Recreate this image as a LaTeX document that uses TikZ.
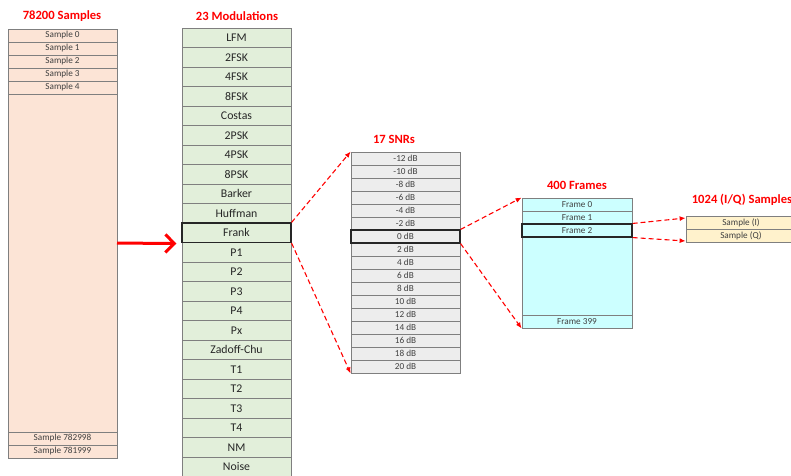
\documentclass[tikz,border=0pt]{standalone}
\usepackage{fontspec}
\setmainfont{Carlito}
\usepackage{tikz}
\usetikzlibrary{arrows.meta}
\definecolor{sampfill}{HTML}{FCE4D6}
\definecolor{modfill}{HTML}{E2EFDA}
\definecolor{snrfill}{HTML}{EDEDED}
\definecolor{framefill}{HTML}{CCFFFF}
\definecolor{iqfill}{HTML}{FFF2CC}
\definecolor{cellline}{HTML}{7F7F7F}
\definecolor{celltext}{HTML}{404040}
\definecolor{titlered}{HTML}{FF0000}
\tikzset{cell/.style = {draw=cellline, line width=0.8pt, minimum width=109pt, inner sep=0pt, text=celltext}}
\tikzset{smallcell/.style = {cell, minimum height=13pt, font=\fontsize{9.2}{10}\selectfont}}
\tikzset{sampcell/.style = {smallcell, fill=sampfill}}
\tikzset{modcell/.style = {cell, fill=modfill, minimum height=19.5pt, text=black!85, font=\fontsize{11.8}{12}\selectfont}}
\tikzset{snrcell/.style = {smallcell, fill=snrfill}}
\tikzset{framecell/.style = {smallcell, fill=framefill, minimum width=110pt}}
\tikzset{iqcell/.style = {smallcell, fill=iqfill, minimum width=110pt}}
\tikzset{chosen/.style = {draw=black!85, line width=1.1pt}}
\tikzset{title/.style = {text=titlered, font=\bfseries\fontsize{12.6}{14}\selectfont}}
\tikzset{zoomarrow/.style = {red, line width=1.1pt, dash pattern=on 5pt off 3pt, -{Latex[length=6pt,width=5pt]}}}
\tikzset{inarrow/.style = {red, line width=3pt, -{Straight Barb[length=9pt,width=18pt]}}}

\begin{document}
\begin{tikzpicture}[x=1pt, y=-1pt]
                \useasboundingbox (0,0) rectangle (791,475);

                \node[title] (tsamp) at (62,16) {78200 Samples};
                \node[title] (tmod) at (237,16) {23 Modulations};
                \node[title] (tsnr) at (394,139) {17 SNRs};
                \node[title] (tframe) at (577,185) {400 Frames};
                \node[title] (tiq) at (742,200) {1024 (I/Q) Samples};

                \node[sampcell] (s0) at (62.5,35.5) {Sample 0};
                \node[sampcell] (s1) at (62.5,48.5) {Sample 1};
                \node[sampcell] (s2) at (62.5,61.5) {Sample 2};
                \node[sampcell] (s3) at (62.5,74.5) {Sample 3};
                \node[sampcell] (s4) at (62.5,87.5) {Sample 4};
                \node[sampcell, minimum height=338pt] (sgap) at (62.5,263) {};
                \node[sampcell] (sn1) at (62.5,438.5) {Sample 782998};
                \node[sampcell] (sn2) at (62.5,451.5) {Sample 781999};

                \node[modcell] (lfm) at (236.5,37.75) {LFM};
                \node[modcell] (fsk2) at (236.5,57.25) {2FSK};
                \node[modcell] (fsk4) at (236.5,76.75) {4FSK};
                \node[modcell] (fsk8) at (236.5,96.25) {8FSK};
                \node[modcell] (costas) at (236.5,115.75) {Costas};
                \node[modcell] (psk2) at (236.5,135.25) {2PSK};
                \node[modcell] (psk4) at (236.5,154.75) {4PSK};
                \node[modcell] (psk8) at (236.5,174.25) {8PSK};
                \node[modcell] (barker) at (236.5,193.75) {Barker};
                \node[modcell] (huffman) at (236.5,213.25) {Huffman};
                \node[modcell] (p1) at (236.5,252.25) {P1};
                \node[modcell] (p2) at (236.5,271.75) {P2};
                \node[modcell] (p3) at (236.5,291.25) {P3};
                \node[modcell] (p4) at (236.5,310.75) {P4};
                \node[modcell] (px) at (236.5,330.25) {Px};
                \node[modcell] (zc) at (236.5,349.75) {Zadoff-Chu};
                \node[modcell] (t1) at (236.5,369.25) {T1};
                \node[modcell] (t2) at (236.5,388.75) {T2};
                \node[modcell] (t3) at (236.5,408.25) {T3};
                \node[modcell] (t4) at (236.5,427.75) {T4};
                \node[modcell] (nm) at (236.5,447.25) {NM};
                \node[modcell] (noise) at (236.5,466.75) {Noise};
                \node[modcell, chosen] (frank) at (236.5,232.75) {Frank};

                \node[snrcell] (m12) at (405.5,158.5) {-12 dB};
                \node[snrcell] (m10) at (405.5,171.5) {-10 dB};
                \node[snrcell] (m8) at (405.5,184.5) {-8 dB};
                \node[snrcell] (m6) at (405.5,197.5) {-6 dB};
                \node[snrcell] (m4) at (405.5,210.5) {-4 dB};
                \node[snrcell] (m2) at (405.5,223.5) {-2 dB};
                \node[snrcell] (p2db) at (405.5,249.5) {2 dB};
                \node[snrcell] (p4db) at (405.5,262.5) {4 dB};
                \node[snrcell] (p6db) at (405.5,275.5) {6 dB};
                \node[snrcell] (p8db) at (405.5,288.5) {8 dB};
                \node[snrcell] (p10db) at (405.5,301.5) {10 dB};
                \node[snrcell] (p12db) at (405.5,314.5) {12 dB};
                \node[snrcell] (p14db) at (405.5,327.5) {14 dB};
                \node[snrcell] (p16db) at (405.5,340.5) {16 dB};
                \node[snrcell] (p18db) at (405.5,353.5) {18 dB};
                \node[snrcell] (p20db) at (405.5,366.5) {20 dB};
                \node[snrcell, chosen] (zero) at (405.5,236.5) {0 dB};

                \node[framecell] (f0) at (577,204.5) {Frame 0};
                \node[framecell] (f1) at (577,217.5) {Frame 1};
                \node[framecell, minimum height=78pt] (fgap) at (577,276) {};
                \node[framecell] (f399) at (577,321.5) {Frame 399};
                \node[framecell, chosen] (f2) at (577,230.5) {Frame 2};

                \node[iqcell] (qi) at (741,222.5) {Sample (I)};
                \node[iqcell] (qq) at (741,235.5) {Sample (Q)};

                \coordinate (feed) at (117,243);
                \draw[inarrow] (feed) -- ([xshift=-5pt,yshift=-0.5pt]frank.south west);

                \draw[zoomarrow] (frank.north east) -- (m12.north west);
                \draw[zoomarrow] (frank.south east) -- (p20db.south west);
                \draw[zoomarrow] (zero.north east) -- (f0.north west);
                \draw[zoomarrow] (zero.south east) -- (f399.south west);
                \draw[zoomarrow] (f2.north east) -- ([yshift=4.5pt]qi.west);
                \draw[zoomarrow] (f2.south east) -- ([yshift=-5.5pt]qq.west);
            \end{tikzpicture}
\end{document}
